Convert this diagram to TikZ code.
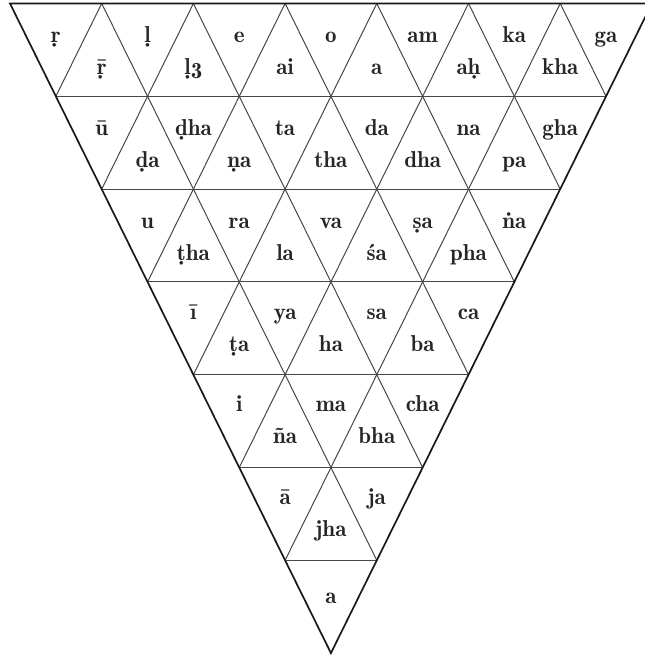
\documentclass[tikz,border=0pt]{standalone}
\usepackage{fontspec}
\usepackage{graphicx}
\newfontfamily\labfont{lmromandemi10-regular.otf}
\newcommand\lowthree{\raisebox{-4pt}{3}}
\begin{document}
\begin{tikzpicture}[x=1pt,y=-1pt,
  inner/.style={line width=1pt, draw=black!72},
  outer/.style={line width=1.7pt, draw=black!90, line join=miter},
  lab/.style={inner sep=0pt, anchor=base, font=\labfont\fontsize{23}{27}\selectfont, text=black!85}]
\useasboundingbox (0,0) rectangle (645,656);
\fill[white] (0,0) rectangle (645,656);
\def\W{91.7}\def\H{92.8}\def\X{10}\def\Y{3.5}
% horizontal lines
\foreach \r in {1,...,6}
  \draw[inner] ({\X+\r*\W/2},{\Y+\r*\H}) -- ({\X+(14-\r)*\W/2},{\Y+\r*\H});
% diagonals
\foreach \k in {1,...,6} {
  \draw[inner] ({\X+\k*\W},\Y) -- ({\X+\k*\W/2},{\Y+\k*\H});
  \draw[inner] ({\X+\k*\W},\Y) -- ({\X+(7+\k)*\W/2},{\Y+(7-\k)*\H});
}
% outer triangle
\draw[outer] (\X,\Y) -- ({\X+7*\W},\Y) -- ({\X+3.5*\W},{\Y+7*\H}) -- cycle;
% labels: downward triangles (d) and upward triangles (u)
\foreach \t [count=\j from 0] in {ṛ,ḷ,e,o,am,ka,ga}
  \node[lab] (d0-\j) at ({\X+0.5*\W+\j*\W},{\Y+0*\H+39}) {\t};
\foreach \t [count=\j from 0] in {ṝ,{ḷ\lowthree},ai,a,aḥ,kha}
  \node[lab] (u0-\j) at ({\X+1.0*\W+\j*\W},{\Y+0*\H+71}) {\t};
\foreach \t [count=\j from 0] in {ū,ḍha,ta,da,na,gha}
  \node[lab] (d1-\j) at ({\X+1.0*\W+\j*\W},{\Y+1*\H+39}) {\t};
\foreach \t [count=\j from 0] in {ḍa,ṇa,tha,dha,pa}
  \node[lab] (u1-\j) at ({\X+1.5*\W+\j*\W},{\Y+1*\H+71}) {\t};
\foreach \t [count=\j from 0] in {u,ra,va,ṣa,ṅa}
  \node[lab] (d2-\j) at ({\X+1.5*\W+\j*\W},{\Y+2*\H+39}) {\t};
\foreach \t [count=\j from 0] in {ṭha,la,śa,pha}
  \node[lab] (u2-\j) at ({\X+2.0*\W+\j*\W},{\Y+2*\H+71}) {\t};
\foreach \t [count=\j from 0] in {ī,ya,sa,ca}
  \node[lab] (d3-\j) at ({\X+2.0*\W+\j*\W},{\Y+3*\H+38}) {\t};
\foreach \t [count=\j from 0] in {ṭa,ha,ba}
  \node[lab] (u3-\j) at ({\X+2.5*\W+\j*\W},{\Y+3*\H+70}) {\t};
\foreach \t [count=\j from 0] in {i,ma,cha}
  \node[lab] (d4-\j) at ({\X+2.5*\W+\j*\W},{\Y+4*\H+37}) {\t};
\foreach \t [count=\j from 0] in {ña,bha}
  \node[lab] (u4-\j) at ({\X+3.0*\W+\j*\W},{\Y+4*\H+69}) {\t};
\foreach \t [count=\j from 0] in {ā,ja}
  \node[lab] (d5-\j) at ({\X+3.0*\W+\j*\W},{\Y+5*\H+37}) {\t};
\node[lab] (u5-0) at ({\X+3.5*\W},{\Y+5*\H+69}) {jha};
\node[lab] (d6-0) at ({\X+3.5*\W},{\Y+6*\H+43}) {a};
\end{tikzpicture}
\end{document}
